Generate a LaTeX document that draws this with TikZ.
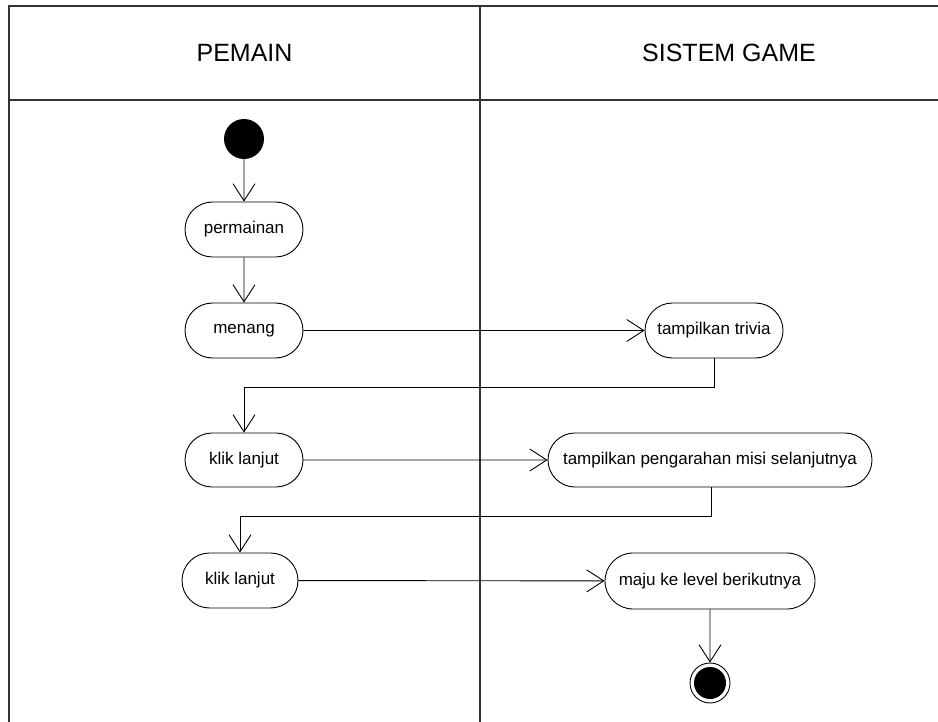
\documentclass[tikz,border=0pt]{standalone}
\usepackage{fontspec}
\setmainfont{Liberation Sans}
\usetikzlibrary{arrows.meta,shapes.misc}

\tikzset{
  lane/.style={draw=black!80, line width=1.3pt},
  action/.style={rounded rectangle, draw, line width=0.9pt, inner sep=0pt,
    minimum height=55pt, font=\fontsize{17}{20}\selectfont},
  flow/.style={draw, line width=0.9pt, -{Straight Barb[length=17pt,width=22pt,line width=0.9pt]}},
  header/.style={font=\fontsize{25}{29}\selectfont},
}

\begin{document}
\begin{tikzpicture}[x=1pt,y=-1pt]
  \clip (0,0) rectangle (938,722);
  \fill[white] (0,0) rectangle (938,722);

  % swimlane frame
  \draw[lane] (9,6) rectangle (978,760);
  \draw[lane] (9,100) -- (978,100);
  \draw[lane] (480,6) -- (480,760);
  \node[header] (laneA) at (244.5,53) {PEMAIN};
  \node[header] (laneB) at (729,53) {SISTEM GAME};

  % actions
  \node[circle, fill=black, minimum size=40pt, inner sep=0pt] (start) at (244,139) {};
  \node[action, minimum width=118pt] (permainan) at (244,229.5) {permainan};
  \node[action, minimum width=118pt] (menang) at (244,330.5) {menang};
  \node[action, minimum width=138pt] (trivia) at (714,330.5) {tampilkan trivia};
  \node[action, minimum width=118pt, minimum height=54pt] (klik1) at (244,460) {klik lanjut};
  \node[action, minimum width=324pt, minimum height=54pt] (arah) at (710,460) {tampilkan pengarahan misi selanjutnya};
  \node[action, minimum width=116pt] (klik2) at (240,580.5) {klik lanjut};
  \node[action, minimum width=210pt, minimum height=56pt] (maju) at (710,581) {maju ke level berikutnya};
  \node[circle, draw, line width=0.9pt, minimum size=40pt, inner sep=0pt] (end) at (710,683) {};
  \node[circle, fill=black, minimum size=32pt, inner sep=0pt] (endcore) at (end.center) {};

  % control flow
  \coordinate (t1) at (714,387);
  \coordinate (t2) at (244,387);
  \coordinate (a1) at (711,516);
  \coordinate (a2) at (240,516);
  \draw[flow] (start) -- (permainan);
  \draw[flow] (permainan) -- (menang);
  \draw[flow] (menang) -- (trivia);
  \draw[flow] (trivia.south) -- (t1) -- (t2) -- (klik1.north);
  \draw[flow] (klik1) -- (arah);
  \draw[flow] (arah.south -| a1) -- (a1) -- (a2) -- (klik2.north);
  \draw[flow] (klik2) -- (maju);
  \draw[flow] (maju) -- (end);
\end{tikzpicture}
\end{document}
